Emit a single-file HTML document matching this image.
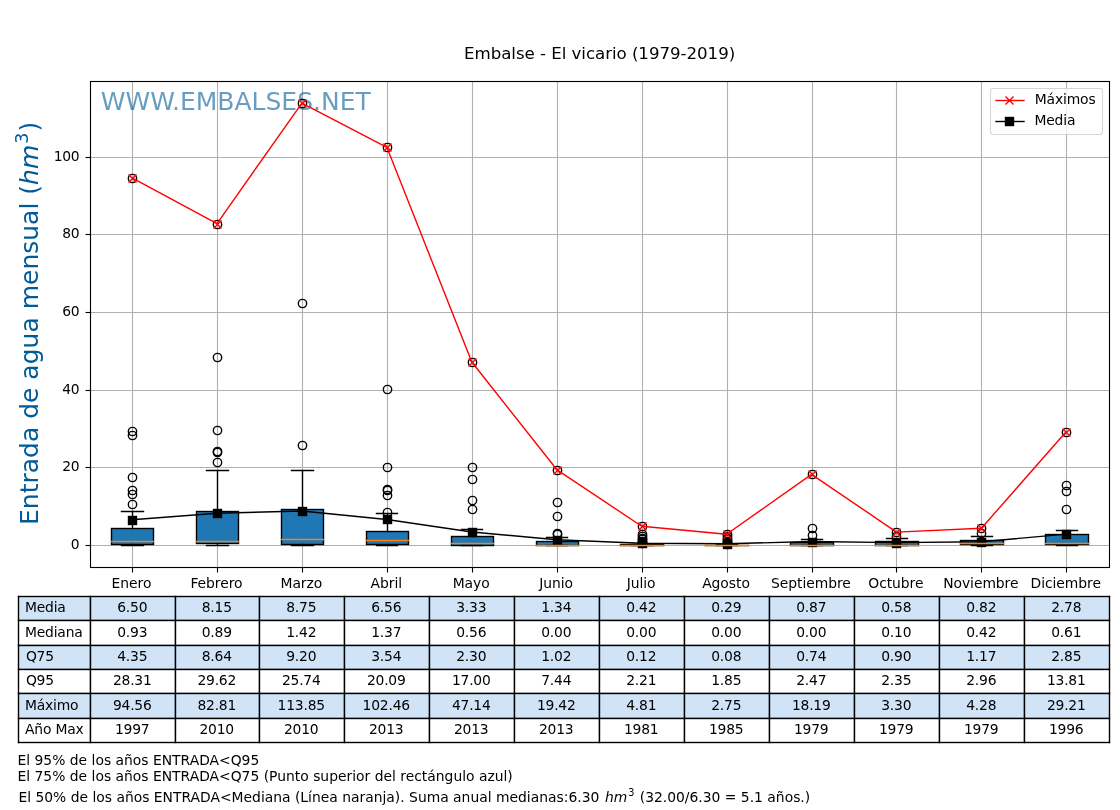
<!DOCTYPE html>
<html lang="es"><head><meta charset="utf-8"><title>Embalse - El vicario (1979-2019)</title>
<style>html,body{margin:0;padding:0;background:#fff}body{width:1120px;height:810px;overflow:hidden}svg{display:block;will-change:transform}text{font-family:"DejaVu Sans","Liberation Sans",sans-serif;fill:#000}.t10{font-size:13.89px}.mid{text-anchor:middle}.end{text-anchor:end}</style></head><body>
<svg width="1120" height="810" viewBox="0 0 1120 810">
<rect width="1120" height="810" fill="#fff"/>
<text x="599.6" y="59.1" class="mid" style="font-size:16.67px;letter-spacing:-0.05px">Embalse - El vicario (1979-2019)</text>
<g stroke="#b0b0b0" stroke-width="1.1" fill="none">
<path d="M132.5 81.5V567.5"/>
<path d="M217.5 81.5V567.5"/>
<path d="M302.5 81.5V567.5"/>
<path d="M387.5 81.5V567.5"/>
<path d="M472.5 81.5V567.5"/>
<path d="M557.5 81.5V567.5"/>
<path d="M642.5 81.5V567.5"/>
<path d="M727.5 81.5V567.5"/>
<path d="M812.5 81.5V567.5"/>
<path d="M896.5 81.5V567.5"/>
<path d="M981.5 81.5V567.5"/>
<path d="M1066.5 81.5V567.5"/>
<path d="M90.5 545.5H1109.5"/>
<path d="M90.5 467.5H1109.5"/>
<path d="M90.5 390.5H1109.5"/>
<path d="M90.5 312.5H1109.5"/>
<path d="M90.5 234.5H1109.5"/>
<path d="M90.5 157.5H1109.5"/>
</g>
<text x="100.7" y="110" style="font-size:25px;fill:#005b98;fill-opacity:.6">WWW.EMBALSES.NET</text>
<g stroke="#000" stroke-width="1.39">
<rect x="111.50" y="528.50" width="42.00" height="16.00" fill="#1f77b4"/>
<rect x="196.50" y="511.50" width="42.00" height="32.00" fill="#1f77b4"/>
<rect x="281.50" y="509.50" width="42.00" height="35.00" fill="#1f77b4"/>
<rect x="366.50" y="531.50" width="42.00" height="13.00" fill="#1f77b4"/>
<rect x="451.50" y="536.50" width="42.00" height="9.00" fill="#1f77b4"/>
<rect x="536.50" y="541.50" width="42.00" height="4.00" fill="#1f77b4"/>
<rect x="620.50" y="544.50" width="43.00" height="1.00" fill="#1f77b4"/>
<rect x="705.50" y="545.50" width="43.00" height="0.01" fill="#1f77b4"/>
<rect x="790.50" y="542.50" width="43.00" height="3.00" fill="#1f77b4"/>
<rect x="875.50" y="541.50" width="43.00" height="4.00" fill="#1f77b4"/>
<rect x="960.50" y="540.50" width="43.00" height="4.00" fill="#1f77b4"/>
<rect x="1045.50" y="534.50" width="43.00" height="10.00" fill="#1f77b4"/>
</g>
<g stroke="#000" stroke-width="1.39" fill="none" stroke-linecap="square">
<path d="M132.5 528.5V511.5M132.5 544.5V545.5M121.50 511.5H143.50M121.50 545.5H143.50"/>
<path d="M217.5 511.5V470.5M217.5 543.5V545.5M206.50 470.5H228.50M206.50 545.5H228.50"/>
<path d="M302.5 509.5V470.5M302.5 544.5V545.5M291.50 470.5H313.50M291.50 545.5H313.50"/>
<path d="M387.5 531.5V513.5M387.5 544.5V545.5M376.50 513.5H397.50M376.50 545.5H397.50"/>
<path d="M472.5 536.5V529.5M472.5 545.5V545.5M461.50 529.5H482.50M461.50 545.5H482.50"/>
<path d="M557.5 541.5V537.5M557.5 545.5V545.5M546.50 537.5H567.50M546.50 545.5H567.50"/>
<path d="M642.5 544.5V544.5M642.5 545.5V545.5M631.50 544.5H652.50M631.50 545.5H652.50"/>
<path d="M727.5 545.5V544.5M727.5 545.5V545.5M716.50 544.5H737.50M716.50 545.5H737.50"/>
<path d="M812.5 542.5V539.5M812.5 545.5V545.5M801.50 539.5H822.50M801.50 545.5H822.50"/>
<path d="M896.5 541.5V538.5M896.5 545.5V545.5M886.50 538.5H907.50M886.50 545.5H907.50"/>
<path d="M981.5 540.5V536.5M981.5 544.5V545.5M971.50 536.5H992.50M971.50 545.5H992.50"/>
<path d="M1066.5 534.5V530.5M1066.5 544.5V545.5M1056.50 530.5H1077.50M1056.50 545.5H1077.50"/>
</g>
<g stroke="#000" stroke-width="1.39" fill="none">
<circle cx="132.5" cy="504.5" r="4.17"/>
<circle cx="132.5" cy="494.5" r="4.17"/>
<circle cx="132.5" cy="490.5" r="4.17"/>
<circle cx="132.5" cy="477.5" r="4.17"/>
<circle cx="132.5" cy="435.5" r="4.17"/>
<circle cx="132.5" cy="431.5" r="4.17"/>
<circle cx="132.5" cy="178.5" r="4.17"/>
<circle cx="217.5" cy="462.5" r="4.17"/>
<circle cx="217.5" cy="452.5" r="4.17"/>
<circle cx="217.5" cy="451.5" r="4.17"/>
<circle cx="217.5" cy="430.5" r="4.17"/>
<circle cx="217.5" cy="357.5" r="4.17"/>
<circle cx="217.5" cy="224.5" r="4.17"/>
<circle cx="302.5" cy="445.5" r="4.17"/>
<circle cx="302.5" cy="303.5" r="4.17"/>
<circle cx="302.5" cy="103.5" r="4.17"/>
<circle cx="387.5" cy="512.5" r="4.17"/>
<circle cx="387.5" cy="495.5" r="4.17"/>
<circle cx="387.5" cy="490.5" r="4.17"/>
<circle cx="387.5" cy="489.5" r="4.17"/>
<circle cx="387.5" cy="467.5" r="4.17"/>
<circle cx="387.5" cy="389.5" r="4.17"/>
<circle cx="387.5" cy="147.5" r="4.17"/>
<circle cx="472.5" cy="509.5" r="4.17"/>
<circle cx="472.5" cy="500.5" r="4.17"/>
<circle cx="472.5" cy="479.5" r="4.17"/>
<circle cx="472.5" cy="467.5" r="4.17"/>
<circle cx="472.5" cy="362.5" r="4.17"/>
<circle cx="557.5" cy="534.5" r="4.17"/>
<circle cx="557.5" cy="533.5" r="4.17"/>
<circle cx="557.5" cy="516.5" r="4.17"/>
<circle cx="557.5" cy="502.5" r="4.17"/>
<circle cx="557.5" cy="470.5" r="4.17"/>
<circle cx="642.5" cy="543.5" r="4.17"/>
<circle cx="642.5" cy="542.5" r="4.17"/>
<circle cx="642.5" cy="541.5" r="4.17"/>
<circle cx="642.5" cy="539.5" r="4.17"/>
<circle cx="642.5" cy="538.5" r="4.17"/>
<circle cx="642.5" cy="536.5" r="4.17"/>
<circle cx="642.5" cy="534.5" r="4.17"/>
<circle cx="642.5" cy="526.5" r="4.17"/>
<circle cx="727.5" cy="544.5" r="4.17"/>
<circle cx="727.5" cy="543.5" r="4.17"/>
<circle cx="727.5" cy="542.5" r="4.17"/>
<circle cx="727.5" cy="541.5" r="4.17"/>
<circle cx="727.5" cy="539.5" r="4.17"/>
<circle cx="727.5" cy="538.5" r="4.17"/>
<circle cx="727.5" cy="536.5" r="4.17"/>
<circle cx="727.5" cy="534.5" r="4.17"/>
<circle cx="812.5" cy="535.5" r="4.17"/>
<circle cx="812.5" cy="528.5" r="4.17"/>
<circle cx="812.5" cy="474.5" r="4.17"/>
<circle cx="896.5" cy="536.5" r="4.17"/>
<circle cx="896.5" cy="532.5" r="4.17"/>
<circle cx="981.5" cy="533.5" r="4.17"/>
<circle cx="981.5" cy="528.5" r="4.17"/>
<circle cx="1066.5" cy="509.5" r="4.17"/>
<circle cx="1066.5" cy="491.5" r="4.17"/>
<circle cx="1066.5" cy="485.5" r="4.17"/>
<circle cx="1066.5" cy="432.5" r="4.17"/>
</g>
<polyline points="132.07,177.95 217.00,223.55 301.93,103.09 386.87,147.29 471.80,361.97 556.73,469.55 641.67,526.24 726.60,534.24 811.53,474.32 896.47,532.10 981.40,528.30 1066.33,431.55" fill="none" stroke="#f00" stroke-width="1.39" stroke-linejoin="round"/>
<g stroke="#f00" stroke-width="1.39" fill="none">
<path d="M128.50 174.50L136.50 182.50M128.50 182.50L136.50 174.50"/>
<path d="M213.50 220.50L221.50 228.50M213.50 228.50L221.50 220.50"/>
<path d="M298.50 99.50L306.50 107.50M298.50 107.50L306.50 99.50"/>
<path d="M383.50 143.50L391.50 151.50M383.50 151.50L391.50 143.50"/>
<path d="M468.50 358.50L476.50 366.50M468.50 366.50L476.50 358.50"/>
<path d="M553.50 466.50L561.50 474.50M553.50 474.50L561.50 466.50"/>
<path d="M638.50 522.50L646.50 530.50M638.50 530.50L646.50 522.50"/>
<path d="M723.50 530.50L731.50 538.50M723.50 538.50L731.50 530.50"/>
<path d="M808.50 470.50L816.50 478.50M808.50 478.50L816.50 470.50"/>
<path d="M892.50 528.50L900.50 536.50M892.50 536.50L900.50 528.50"/>
<path d="M977.50 524.50L985.50 532.50M977.50 532.50L985.50 524.50"/>
<path d="M1062.50 428.50L1070.50 436.50M1062.50 436.50L1070.50 428.50"/>
</g>
<polyline points="132.07,519.69 217.00,513.28 301.93,510.95 386.87,519.45 471.80,531.99 556.73,539.71 641.67,543.28 726.60,543.78 811.53,541.53 896.47,542.66 981.40,541.73 1066.33,534.12" fill="none" stroke="#000" stroke-width="1.39" stroke-linejoin="round"/>
<g fill="#000">
<rect x="127.81" y="515.80" width="9.39" height="9.39"/>
<rect x="212.81" y="508.81" width="9.39" height="9.39"/>
<rect x="297.81" y="506.81" width="9.39" height="9.39"/>
<rect x="382.81" y="514.80" width="9.39" height="9.39"/>
<rect x="467.81" y="527.80" width="9.39" height="9.39"/>
<rect x="552.80" y="535.80" width="9.39" height="9.39"/>
<rect x="637.80" y="538.80" width="9.39" height="9.39"/>
<rect x="722.80" y="539.80" width="9.39" height="9.39"/>
<rect x="807.80" y="537.80" width="9.39" height="9.39"/>
<rect x="891.80" y="538.80" width="9.39" height="9.39"/>
<rect x="976.80" y="537.80" width="9.39" height="9.39"/>
<rect x="1061.81" y="529.80" width="9.39" height="9.39"/>
</g>
<g stroke="#ff7f0e" stroke-width="1.39" fill="none" stroke-linecap="square">
<path d="M111.50 541.5H153.50"/>
<path d="M196.50 541.5H238.50"/>
<path d="M281.50 539.5H323.50"/>
<path d="M366.50 540.5H408.50"/>
<path d="M451.50 543.5H493.50"/>
<path d="M536.50 545.5H578.50"/>
<path d="M620.50 545.5H663.50"/>
<path d="M705.50 545.5H748.50"/>
<path d="M790.50 545.5H833.50"/>
<path d="M875.50 545.5H918.50"/>
<path d="M960.50 543.5H1003.50"/>
<path d="M1045.50 543.5H1088.50"/>
</g>
<rect x="90.5" y="81.5" width="1019.0" height="486.0" fill="none" stroke="#000" stroke-width="1.11"/>
<g stroke="#000" stroke-width="1.11" fill="none">
<path d="M132.5 567.5v5.0"/>
<path d="M217.5 567.5v5.0"/>
<path d="M302.5 567.5v5.0"/>
<path d="M387.5 567.5v5.0"/>
<path d="M472.5 567.5v5.0"/>
<path d="M557.5 567.5v5.0"/>
<path d="M642.5 567.5v5.0"/>
<path d="M727.5 567.5v5.0"/>
<path d="M812.5 567.5v5.0"/>
<path d="M896.5 567.5v5.0"/>
<path d="M981.5 567.5v5.0"/>
<path d="M1066.5 567.5v5.0"/>
<path d="M90.5 545.5h-5.0"/>
<path d="M90.5 467.5h-5.0"/>
<path d="M90.5 390.5h-5.0"/>
<path d="M90.5 312.5h-5.0"/>
<path d="M90.5 234.5h-5.0"/>
<path d="M90.5 157.5h-5.0"/>
</g>
<g class="t10 mid" style="letter-spacing:-0.05px">
<text x="131.47" y="587.8">Enero</text>
<text x="216.40" y="587.8">Febrero</text>
<text x="301.33" y="587.8">Marzo</text>
<text x="386.27" y="587.8">Abril</text>
<text x="471.20" y="587.8">Mayo</text>
<text x="556.13" y="587.8">Junio</text>
<text x="641.07" y="587.8">Julio</text>
<text x="726.00" y="587.8">Agosto</text>
<text x="810.93" y="587.8">Septiembre</text>
<text x="895.87" y="587.8">Octubre</text>
<text x="980.80" y="587.8">Noviembre</text>
<text x="1065.73" y="587.8">Diciembre</text>
</g>
<g class="t10 end" style="letter-spacing:-0.3px">
<text x="79.3" y="548.9">0</text>
<text x="79.3" y="470.9">20</text>
<text x="79.3" y="393.9">40</text>
<text x="79.3" y="315.9">60</text>
<text x="79.3" y="237.9">80</text>
<text x="79.3" y="160.9">100</text>
</g>
<text transform="translate(37.9 525) rotate(-90)" style="font-size:25px;fill:#005b98">Entrada de agua mensual (<tspan font-style="italic">hm</tspan><tspan dy="-9.6" dx="1" style="font-size:17.5px">3</tspan><tspan dy="9.6" dx="1">)</tspan></text>
<rect x="990.5" y="88.5" width="112" height="46" rx="2.8" ry="2.8" fill="#fff" fill-opacity=".8" stroke="#ccc" stroke-opacity=".8" stroke-width="1.11"/>
<path d="M996 100.5h28" stroke="#f00" stroke-width="1.39" stroke-linecap="square"/>
<path d="M1005.50 96.50l8.00 8.00M1005.50 104.50l8.00 -8.00" stroke="#f00" stroke-width="1.39" fill="none"/>
<path d="M996 121.5h28" stroke="#000" stroke-width="1.39" stroke-linecap="square"/>
<rect x="1004.805" y="116.805" width="9.39" height="9.39" fill="#000"/>
<text x="1034.8" y="103.6" class="t10" style="letter-spacing:-0.15px">Máximos</text>
<text x="1034.4" y="124.7" class="t10" style="letter-spacing:-0.15px">Media</text>
<rect x="18.5" y="596.5" width="1091.0" height="24.0" fill="#d0e3f7"/>
<rect x="18.5" y="645.5" width="1091.0" height="24.0" fill="#d0e3f7"/>
<rect x="18.5" y="693.5" width="1091.0" height="25.0" fill="#d0e3f7"/>
<g fill="#000">
<rect x="17.804" y="595.804" width="1092.392" height="1.392"/>
<rect x="17.804" y="619.643" width="1092.392" height="1.553"/>
<rect x="17.804" y="644.643" width="1092.392" height="1.553"/>
<rect x="17.804" y="668.643" width="1092.392" height="1.553"/>
<rect x="17.804" y="692.643" width="1092.392" height="1.553"/>
<rect x="17.804" y="717.643" width="1092.392" height="1.553"/>
<rect x="17.804" y="741.804" width="1092.392" height="1.392"/>
<rect x="17.804" y="595.804" width="1.392" height="147.392"/>
<rect x="89.643" y="595.804" width="1.553" height="147.392"/>
<rect x="174.643" y="595.804" width="1.553" height="147.392"/>
<rect x="258.643" y="595.804" width="1.553" height="147.392"/>
<rect x="343.643" y="595.804" width="1.553" height="147.392"/>
<rect x="428.643" y="595.804" width="1.553" height="147.392"/>
<rect x="513.643" y="595.804" width="1.553" height="147.392"/>
<rect x="598.643" y="595.804" width="1.553" height="147.392"/>
<rect x="683.643" y="595.804" width="1.553" height="147.392"/>
<rect x="768.643" y="595.804" width="1.553" height="147.392"/>
<rect x="853.643" y="595.804" width="1.553" height="147.392"/>
<rect x="938.643" y="595.804" width="1.553" height="147.392"/>
<rect x="1023.643" y="595.804" width="1.553" height="147.392"/>
<rect x="1108.804" y="595.804" width="1.392" height="147.392"/>
</g>
<text x="25" y="611.8" class="t10" style="letter-spacing:-0.2px">Media</text>
<g class="t10 mid" style="letter-spacing:-0.2px"><text x="132.25" y="611.8">6.50</text><text x="216.75" y="611.8">8.15</text><text x="301.25" y="611.8">8.75</text><text x="386.25" y="611.8">6.56</text><text x="471.25" y="611.8">3.33</text><text x="556.25" y="611.8">1.34</text><text x="641.25" y="611.8">0.42</text><text x="726.25" y="611.8">0.29</text><text x="811.25" y="611.8">0.87</text><text x="896.25" y="611.8">0.58</text><text x="981.25" y="611.8">0.82</text><text x="1066.25" y="611.8">2.78</text></g>
<text x="25" y="636.9" class="t10" style="letter-spacing:-0.2px">Mediana</text>
<g class="t10 mid" style="letter-spacing:-0.2px"><text x="132.25" y="636.9">0.93</text><text x="216.75" y="636.9">0.89</text><text x="301.25" y="636.9">1.42</text><text x="386.25" y="636.9">1.37</text><text x="471.25" y="636.9">0.56</text><text x="556.25" y="636.9">0.00</text><text x="641.25" y="636.9">0.00</text><text x="726.25" y="636.9">0.00</text><text x="811.25" y="636.9">0.00</text><text x="896.25" y="636.9">0.10</text><text x="981.25" y="636.9">0.42</text><text x="1066.25" y="636.9">0.61</text></g>
<text x="25.9" y="660.6" class="t10" style="letter-spacing:-0.2px">Q75</text>
<g class="t10 mid" style="letter-spacing:-0.2px"><text x="132.25" y="660.6">4.35</text><text x="216.75" y="660.6">8.64</text><text x="301.25" y="660.6">9.20</text><text x="386.25" y="660.6">3.54</text><text x="471.25" y="660.6">2.30</text><text x="556.25" y="660.6">1.02</text><text x="641.25" y="660.6">0.12</text><text x="726.25" y="660.6">0.08</text><text x="811.25" y="660.6">0.74</text><text x="896.25" y="660.6">0.90</text><text x="981.25" y="660.6">1.17</text><text x="1066.25" y="660.6">2.85</text></g>
<text x="25.9" y="685.0" class="t10" style="letter-spacing:-0.2px">Q95</text>
<g class="t10 mid" style="letter-spacing:-0.2px"><text x="132.25" y="685.0">28.31</text><text x="216.75" y="685.0">29.62</text><text x="301.25" y="685.0">25.74</text><text x="386.25" y="685.0">20.09</text><text x="471.25" y="685.0">17.00</text><text x="556.25" y="685.0">7.44</text><text x="641.25" y="685.0">2.21</text><text x="726.25" y="685.0">1.85</text><text x="811.25" y="685.0">2.47</text><text x="896.25" y="685.0">2.35</text><text x="981.25" y="685.0">2.96</text><text x="1066.25" y="685.0">13.81</text></g>
<text x="25" y="709.5" class="t10" style="letter-spacing:-0.2px">Máximo</text>
<g class="t10 mid" style="letter-spacing:-0.2px"><text x="132.25" y="709.5">94.56</text><text x="216.75" y="709.5">82.81</text><text x="301.25" y="709.5">113.85</text><text x="386.25" y="709.5">102.46</text><text x="471.25" y="709.5">47.14</text><text x="556.25" y="709.5">19.42</text><text x="641.25" y="709.5">4.81</text><text x="726.25" y="709.5">2.75</text><text x="811.25" y="709.5">18.19</text><text x="896.25" y="709.5">3.30</text><text x="981.25" y="709.5">4.28</text><text x="1066.25" y="709.5">29.21</text></g>
<text x="25" y="733.8" class="t10" style="letter-spacing:-0.2px">Año Max</text>
<g class="t10 mid" style="letter-spacing:-0.2px"><text x="132.25" y="733.8">1997</text><text x="216.75" y="733.8">2010</text><text x="301.25" y="733.8">2010</text><text x="386.25" y="733.8">2013</text><text x="471.25" y="733.8">2013</text><text x="556.25" y="733.8">2013</text><text x="641.25" y="733.8">1981</text><text x="726.25" y="733.8">1985</text><text x="811.25" y="733.8">1979</text><text x="896.25" y="733.8">1979</text><text x="981.25" y="733.8">1979</text><text x="1066.25" y="733.8">1996</text></g>
<text x="17.5" y="765" class="t10">El 95% de los años ENTRADA&lt;Q95</text>
<text x="17.5" y="781" class="t10">El 75% de los años ENTRADA&lt;Q75 (Punto superior del rectángulo azul)</text>
<text x="18.4" y="801.6" class="t10">El 50% de los años ENTRADA&lt;Mediana (Línea naranja). Suma anual medianas:6.30 <tspan font-style="italic" dx="1.2">hm</tspan><tspan dy="-5.3" dx="0.9" style="font-size:9.72px">3</tspan><tspan dy="5.3" dx="1"> (32.00/6.30 = 5.1 años.)</tspan></text>
</svg></body></html>
